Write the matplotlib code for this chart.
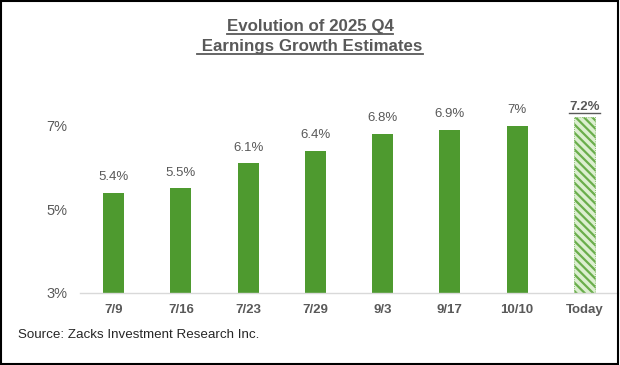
import matplotlib
matplotlib.use("Agg")
import matplotlib.pyplot as plt
from matplotlib.patches import Rectangle
from matplotlib.lines import Line2D

plt.rcParams['font.family'] = ['Liberation Sans', 'DejaVu Sans']
plt.rcParams['hatch.linewidth'] = 1.6

categories = ["7/9", "7/16", "7/23", "7/29", "9/3", "9/17", "10/10", "Today"]
values = [5.4, 5.5, 6.1, 6.4, 6.8, 6.9, 7.0, 7.2]
value_labels = ["5.4%", "5.5%", "6.1%", "6.4%", "6.8%", "6.9%", "7%", "7.2%"]
yticks = [3, 5, 7]
ytick_labels = ["3%", "5%", "7%"]
title_lines = ["Evolution of 2025 Q4", " Earnings Growth Estimates"]
source = "Source: Zacks Investment Research Inc."

GREEN = "#4E9A2F"
GRAY = "#595959"

fig = plt.figure(figsize=(6.2, 3.65), dpi=100)
ax = fig.add_axes([80/620, 72.3/365, 538/620, (292.7-84)/365])

x = list(range(len(categories)))
n = len(categories)
for i in range(n):
    if categories[i] == "Today":
        ax.bar(x[i], values[i] - 3, bottom=3, width=0.31, facecolor="#DCEFD0",
               edgecolor="#6AAE4C", hatch="\\\\\\\\", linewidth=0.6, linestyle=":")
    else:
        ax.bar(x[i], values[i] - 3, bottom=3, width=0.31, color=GREEN)

ax.set_xlim(-0.5, n - 0.5)
ax.set_ylim(3, 8)
ax.set_yticks(yticks)
ax.set_yticklabels(ytick_labels, fontsize=10.5, color=GRAY)
ax.set_xticks(x)
ax.set_xticklabels(categories, fontsize=9.5, fontweight="bold", color=GRAY)
ax.tick_params(axis="both", length=0)
ax.tick_params(axis="y", pad=9)
ax.tick_params(axis="x", pad=8)
for s in ["top", "right", "left"]:
    ax.spines[s].set_visible(False)
ax.spines["bottom"].set_color("#D9D9D9")
ax.spines["bottom"].set_linewidth(1.0)

texts_to_underline = []
for i in range(n):
    if categories[i] == "Today":
        t = ax.annotate(value_labels[i], (x[i], values[i]), xytext=(0, 3),
                        textcoords="offset points", ha="center", va="bottom",
                        fontsize=9.5, fontweight="bold", color=GRAY)
        texts_to_underline.append((t, 1.0))
    else:
        ax.annotate(value_labels[i], (x[i], values[i]), xytext=(0, 7),
                    textcoords="offset points", ha="center", va="bottom",
                    fontsize=9.5, color=GRAY)

t1 = fig.text(0.5, 1 - 27/365, title_lines[0], ha="center", va="center",
              fontsize=12.2, fontweight="bold", color=GRAY)
t2 = fig.text(0.5, 1 - 47/365, title_lines[1], ha="center", va="center",
              fontsize=12.2, fontweight="bold", color=GRAY)
texts_to_underline += [(t1, 1.3), (t2, 1.3)]

fig.text(18/620, 1 - 335/365, source, ha="left", va="center",
         fontsize=9.6, color="#262626")

fig.canvas.draw()
r = fig.canvas.get_renderer()
for t, lw in texts_to_underline:
    bb = t.get_window_extent(renderer=r)
    W, H = fig.bbox.width, fig.bbox.height
    y = (bb.y0 + 0.5) / H
    fig.add_artist(Line2D([bb.x0 / W, bb.x1 / W], [y, y], color=GRAY,
                          linewidth=lw, transform=fig.transFigure))

fig.add_artist(Rectangle((0.0015, 0.002), 0.996, 0.995, transform=fig.transFigure,
                         fill=False, edgecolor="black", linewidth=1.5))

fig.savefig("out.png", dpi=100)
